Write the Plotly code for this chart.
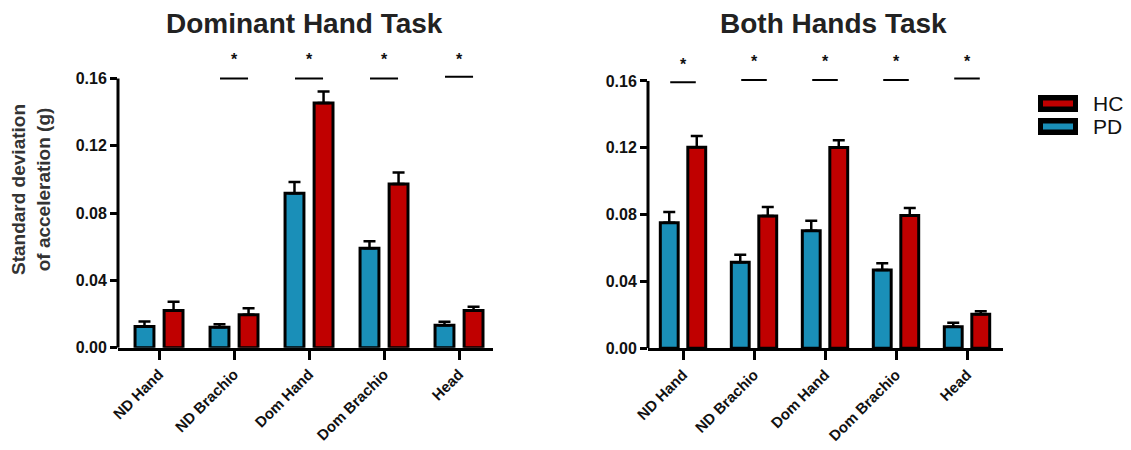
import plotly.graph_objects as go

# page body has an 8px margin; figure is sized so the page fits the 1131x450 window
OFF = 8
W, H = 1131 - 2 * OFF, 450 - 2 * OFF

categories = ["ND Hand", "ND Brachio", "Dom Hand", "Dom Brachio", "Head"]

dom_pd = [0.0126, 0.0122, 0.0917, 0.0591, 0.0134]
dom_pd_err = [0.0030, 0.0018, 0.0067, 0.0041, 0.0020]
dom_hc = [0.0221, 0.0196, 0.1454, 0.0972, 0.0221]
dom_hc_err = [0.0052, 0.0039, 0.0069, 0.0069, 0.0022]

both_pd = [0.0752, 0.0515, 0.0704, 0.0469, 0.0129]
both_pd_err = [0.0064, 0.0045, 0.0060, 0.0040, 0.0024]
both_hc = [0.1203, 0.0792, 0.1201, 0.0794, 0.0204]
both_hc_err = [0.0068, 0.0054, 0.0044, 0.0046, 0.0017]

dom_sig_line = [None, 0.1600, 0.1600, 0.1600, 0.1610]
dom_sig_star = [None, 0.1712, 0.1712, 0.1712, 0.1712]
both_sig_line = [0.1592, 0.1606, 0.1606, 0.1606, 0.1614]
both_sig_star = [0.1700, 0.1715, 0.1715, 0.1715, 0.1715]

y_ticks = [0.0, 0.04, 0.08, 0.12, 0.16]

BLUE = "#1A8FB8"
RED = "#C00000"
FONT = "Liberation Sans, Arial, sans-serif"

xs = list(range(len(categories)))


def px_x(p):
    return (p - OFF) / W


def px_y(p):
    return 1 - (p - OFF) / H


fig = go.Figure()


def add_pair(pd_vals, pd_err, hc_vals, hc_err, xa, ya):
    for name, vals, err, col in [("PD", pd_vals, pd_err, BLUE), ("HC", hc_vals, hc_err, RED)]:
        fig.add_trace(go.Bar(
            x=xs, y=vals, name=name, xaxis=xa, yaxis=ya,
            marker=dict(color=col, line=dict(color="black", width=3)),
            error_y=dict(type="data", array=err, arrayminus=[0] * len(err), symmetric=False,
                         color="black", thickness=2.5, width=6),
            showlegend=False,
        ))


add_pair(dom_pd, dom_pd_err, dom_hc, dom_hc_err, "x", "y")
add_pair(both_pd, both_pd_err, both_hc, both_hc_err, "x2", "y2")

x1_dom = [px_x(118), px_x(493)]
x2_dom = [px_x(648), px_x(1003)]
y1_dom = [px_y(347.7), px_y(347.7 - 0.18 * 1683)]
y2_dom = [px_y(348.3), px_y(348.3 - 0.18 * 1671)]

common_x = dict(
    tickmode="array", tickvals=xs, ticktext=categories, tickangle=-45,
    showline=True, linecolor="black", linewidth=3,
    ticks="outside", ticklen=9, tickwidth=3, tickcolor="black",
    showgrid=False, zeroline=False, automargin=False,
    tickfont=dict(family=FONT, size=15, color="#111", weight="bold"),
)
common_y = dict(
    range=[0, 0.18], tickmode="array", tickvals=y_ticks,
    ticktext=[f"{v:.2f}" for v in y_ticks],
    showline=False, ticks="outside", ticklen=7, tickwidth=3, tickcolor="black",
    showgrid=False, zeroline=False, automargin=False,
    tickfont=dict(family=FONT, size=16, color="#111", weight="bold"),
)

fig.update_layout(
    width=W, height=H, autosize=False,
    margin=dict(l=0, r=0, t=0, b=0, pad=0),
    paper_bgcolor="white", plot_bgcolor="white",
    barmode="group", bargap=0.225, bargroupgap=0.35,
    xaxis=dict(domain=x1_dom, range=[-0.547, 4.453], anchor="y", **common_x),
    yaxis=dict(domain=y1_dom, anchor="x", **common_y),
    xaxis2=dict(domain=x2_dom, range=[-0.493, 4.507], anchor="y2", **common_x),
    yaxis2=dict(domain=y2_dom, anchor="x2", **common_y),
)

shapes = []
annotations = []

# y-axis lines up to 0.16
for xr, yr in [("x domain", "y"), ("x2 domain", "y2")]:
    shapes.append(dict(type="line", xref=xr, yref=yr, x0=0, x1=0, y0=0, y1=0.16,
                       line=dict(color="black", width=3)))

# significance markers
for xr, yr, lines, stars, hw in [("x", "y", dom_sig_line, dom_sig_star, 0.187),
                                  ("x2", "y2", both_sig_line, both_sig_star, 0.18)]:
    for i, (ly, sy) in enumerate(zip(lines, stars)):
        if ly is None:
            continue
        shapes.append(dict(type="line", xref=xr, yref=yr, x0=i - hw, x1=i + hw, y0=ly, y1=ly,
                           line=dict(color="black", width=2)))
        annotations.append(dict(xref=xr, yref=yr, x=i, y=sy, text="*", showarrow=False,
                                yanchor="middle",
                                font=dict(family=FONT, size=16, color="#111", weight="bold")))

# titles
annotations.append(dict(xref="paper", yref="paper", x=px_x(304), y=px_y(23), text="Dominant Hand Task",
                        showarrow=False, xanchor="center", yanchor="middle",
                        font=dict(family=FONT, size=28, color="#222", weight="bold")))
annotations.append(dict(xref="paper", yref="paper", x=px_x(833), y=px_y(23), text="Both Hands Task",
                        showarrow=False, xanchor="center", yanchor="middle",
                        font=dict(family=FONT, size=28, color="#222", weight="bold")))

# y-axis title
annotations.append(dict(xref="paper", yref="paper", x=px_x(31), y=px_y(190),
                        text="Standard deviation<br>of acceleration (g)", textangle=-90,
                        showarrow=False, xanchor="center", yanchor="middle",
                        font=dict(family=FONT, size=19, color="#333", weight="bold")))

# legend (drawn)
for label, col, top in [("HC", RED, 95), ("PD", BLUE, 118)]:
    shapes.append(dict(type="rect", xref="paper", yref="paper",
                       x0=px_x(1038), x1=px_x(1078), y0=px_y(top + 17), y1=px_y(top),
                       fillcolor="black", line=dict(width=0)))
    shapes.append(dict(type="rect", xref="paper", yref="paper",
                       x0=px_x(1043), x1=px_x(1073), y0=px_y(top + 11.5), y1=px_y(top + 5.5),
                       fillcolor=col, line=dict(width=0)))
    annotations.append(dict(xref="paper", yref="paper", x=px_x(1091), y=px_y(top + 8.5),
                            text=label, showarrow=False, xanchor="left", yanchor="middle",
                            font=dict(family=FONT, size=21, color="#111")))

fig.update_layout(shapes=shapes, annotations=annotations)

fig.write_html("out.html")
